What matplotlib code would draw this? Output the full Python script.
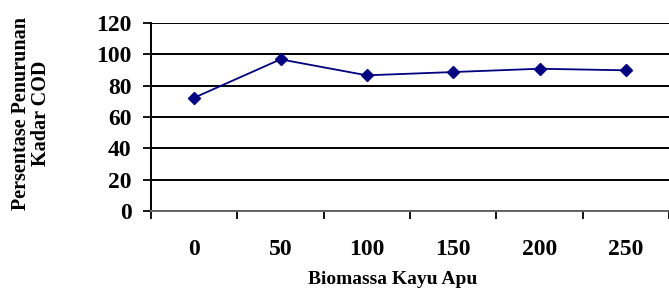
import matplotlib.pyplot as plt

biomassa = ["0", "50", "100", "150", "200", "250"]
penurunan = [72.3, 96.8, 86.6, 88.7, 90.8, 89.8]
y_ticks = [0, 20, 40, 60, 80, 100, 120]

plt.rcParams["font.family"] = ["Liberation Serif", "DejaVu Serif"]
plt.rcParams["font.weight"] = "bold"

fig = plt.figure(figsize=(6.69, 2.91), dpi=100)
ax = fig.add_axes([151 / 669, 80 / 291, 1 - 151 / 669, 188 / 291])

x = list(range(len(biomassa)))
ax.plot(x, penurunan, color="#000080", lw=1.3, marker="D", ms=6.5,
        mec="#000080", mfc="#000080", zorder=3)

ax.set_ylim(0, 120)
ax.set_xlim(-0.5, 5.386)
ax.set_yticks(y_ticks)
ax.yaxis.grid(True, color="black", lw=1.4)
ax.set_axisbelow(True)

# category boundaries as ticks, labels at centres
ax.set_xticks([i - 0.5 for i in range(len(biomassa) + 1)])
ax.set_xticklabels([])
ax.set_xticks(x, minor=True)
ax.set_xticklabels(biomassa, minor=True, fontsize=17, fontweight="bold")
ax.tick_params(axis="x", which="major", length=6, width=1.3, direction="out")
ax.tick_params(axis="x", which="minor", length=0, pad=20)
ax.tick_params(axis="y", length=6, width=1.3, direction="out", pad=8, labelsize=17)

for s in ["top", "right"]:
    ax.spines[s].set_visible(False)
ax.spines["left"].set_linewidth(1.4)
ax.spines["bottom"].set_linewidth(1.4)
ax.spines["bottom"].set_color("#666666")

ax.set_xlabel("Biomassa Kayu Apu", fontsize=14, fontweight="bold", va="center")
ax.xaxis.set_label_coords(0.467, -0.367)
ax.set_ylabel("Persentase Penurunan\nKadar COD", fontsize=14.5, fontweight="bold",
              va="center", ha="center", linespacing=1.0)
ax.yaxis.set_label_coords(-0.232, 0.52)

fig.savefig("out.png", dpi=100)
